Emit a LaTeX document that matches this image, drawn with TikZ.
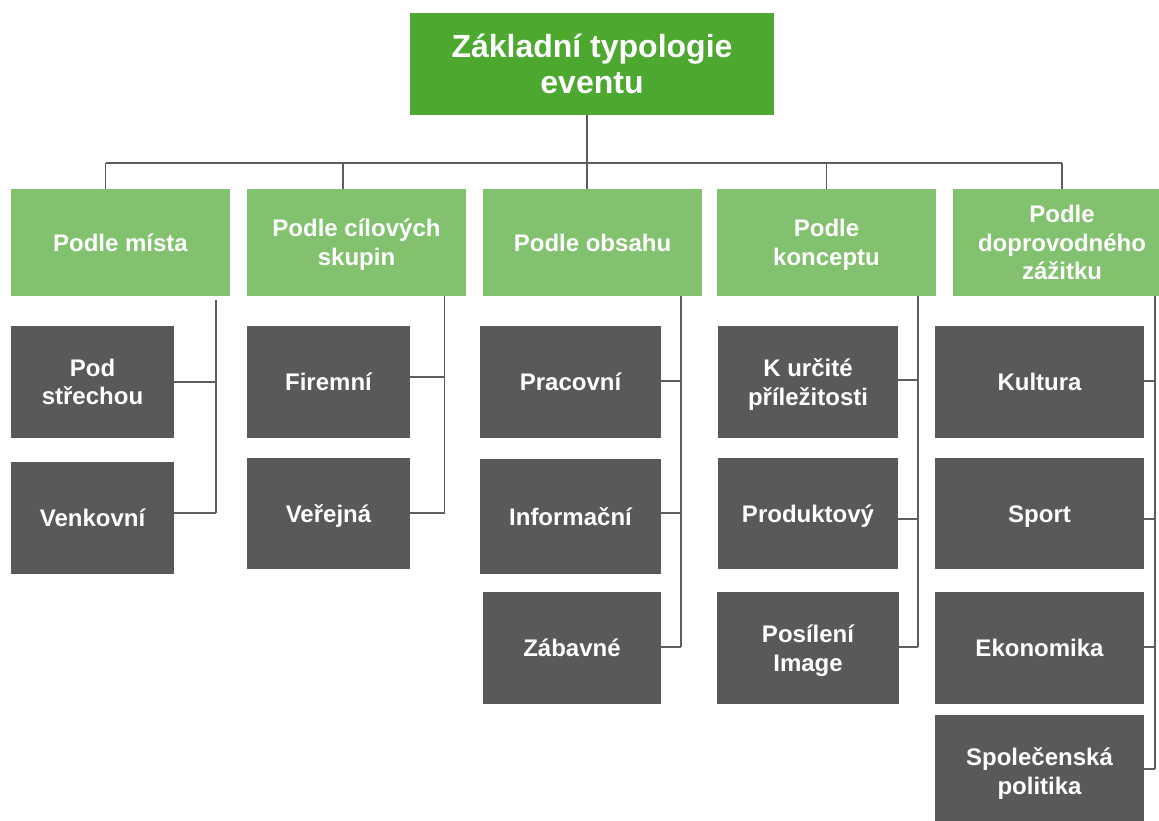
\documentclass[tikz,border=0pt]{standalone}
\usepackage{fontspec}
\setmainfont{Liberation Sans}
\definecolor{topgreen}{HTML}{4CA82F}
\definecolor{midgreen}{HTML}{82C26F}
\definecolor{darkbox}{HTML}{595959}
\definecolor{linegray}{HTML}{5E5E5E}
\newcommand{\nodepth}[1]{\raisebox{0pt}[\height][0pt]{#1}}
\begin{document}
\begin{tikzpicture}[x=1pt,y=-1pt,
  basebox/.style={rectangle, inner sep=0pt, outer sep=0pt, align=center, text=white, font=\bfseries\fontsize{24}{28.8}\selectfont},
  topbox/.style={basebox, fill=topgreen, minimum width=364pt, minimum height=102pt, font=\bfseries\fontsize{32}{36}\selectfont},
  catbox/.style={basebox, fill=midgreen, minimum height=107pt},
  itembox/.style={basebox, fill=darkbox},
  oneline/.style={text height=17pt, text depth=-2pt},
  conn/.style={draw=linegray, line width=1.5pt}]
\useasboundingbox (0,0) rectangle (1159,820);
\clip (0,0) rectangle (1159,820);
\fill[white] (0,0) rectangle (1159,820);

% top
\node[topbox] (top) at (592,64) {Základní typologie\\eventu};

% level 2
\node[catbox, oneline, minimum width=219pt] (a) at (120.5,242.5) {Podle místa};
\node[catbox, minimum width=219pt] (b) at (356.5,242.5) {Podle cílových\\\nodepth{skupin}};
\node[catbox, oneline, minimum width=219pt] (c) at (592.5,242.5) {Podle obsahu};
\node[catbox, minimum width=219pt] (d) at (826.5,242.5) {Podle\\\nodepth{konceptu}};
\node[catbox, minimum width=218pt] (e) at (1062,242.5) {Podle\\doprovodného\\zážitku};

% level 3 col 1
\node[itembox, minimum width=163pt, minimum height=112pt] (a1) at (92.5,382) {Pod\\střechou};
\node[itembox, oneline, minimum width=163pt, minimum height=112pt] (a2) at (92.5,518) {Venkovní};
% col 2
\node[itembox, oneline, minimum width=163pt, minimum height=112pt] (b1) at (328.5,382) {Firemní};
\node[itembox, oneline, minimum width=163pt, minimum height=111pt] (b2) at (328.5,513.5) {Veřejná};
% col 3
\node[itembox, oneline, minimum width=181pt, minimum height=112pt] (c1) at (570.5,382) {Pracovní};
\node[itembox, oneline, minimum width=181pt, minimum height=115pt] (c2) at (570.5,516.5) {Informační};
\node[itembox, oneline, minimum width=178pt, minimum height=112pt] (c3) at (572,648) {Zábavné};
% col 4
\node[itembox, minimum width=180pt, minimum height=112pt] (d1) at (808,382) {K určité\\\nodepth{příležitosti}};
\node[itembox, oneline, minimum width=180pt, minimum height=111pt] (d2) at (808,513.5) {Produktový};
\node[itembox, minimum width=182pt, minimum height=112pt] (d3) at (808,648) {Posílení\\\nodepth{Image}};
% col 5
\node[itembox, oneline, minimum width=209pt, minimum height=112pt] (e1) at (1039.5,382) {Kultura};
\node[itembox, oneline, minimum width=209pt, minimum height=111pt] (e2) at (1039.5,513.5) {Sport};
\node[itembox, oneline, minimum width=209pt, minimum height=112pt] (e3) at (1039.5,648) {Ekonomika};
\node[itembox, minimum width=209pt, minimum height=112pt] (e4) at (1039.5,771) {Společenská\\\nodepth{politika}};

% bus
\coordinate (s0) at (587,163);
\coordinate (s1) at (105.6,163);
\coordinate (s2) at (343,163);
\coordinate (s3) at (587,163);
\coordinate (s4) at (826.7,163);
\coordinate (s5) at (1062,163);
\draw[conn] (top.south -| s0) -- (s0);
\draw[conn] (s1) -- (s5);
\draw[conn] (s1) -- (s1 |- a.north);
\draw[conn] (s2) -- (s2 |- b.north);
\draw[conn] (s3) -- (s3 |- c.north);
\draw[conn] (s4) -- (s4 |- d.north);
\draw[conn] (s5) -- (s5 |- e.north);

% brackets col 1
\coordinate (k1a) at (216,382);
\coordinate (k1b) at (216,513);
\draw[conn] ([yshift=-4pt]a.south -| k1a) -- (k1b);
\draw[conn] (k1a -| a1.east) -- (k1a);
\draw[conn] (k1b -| a2.east) -- (k1b);
% col 2
\coordinate (k2a) at (444.5,377);
\coordinate (k2b) at (444.5,513);
\draw[conn] (b.south -| k2a) -- (k2b);
\draw[conn] (k2a -| b1.east) -- (k2a);
\draw[conn] (k2b -| b2.east) -- (k2b);
% col 3
\coordinate (k3a) at (681,381);
\coordinate (k3b) at (681,513);
\coordinate (k3c) at (681,647);
\draw[conn] (c.south -| k3a) -- (k3c);
\draw[conn] (k3a -| c1.east) -- (k3a);
\draw[conn] (k3b -| c2.east) -- (k3b);
\draw[conn] (k3c -| c3.east) -- (k3c);
% col 4
\coordinate (k4a) at (918,380);
\coordinate (k4b) at (918,519);
\coordinate (k4c) at (918,647);
\draw[conn] (d.south -| k4a) -- (k4c);
\draw[conn] (k4a -| d1.east) -- (k4a);
\draw[conn] (k4b -| d2.east) -- (k4b);
\draw[conn] (k4c -| d3.east) -- (k4c);
% col 5
\coordinate (k5a) at (1155,381);
\coordinate (k5b) at (1155,519);
\coordinate (k5c) at (1155,647);
\coordinate (k5d) at (1155,769);
\draw[conn] (e.south -| k5a) -- (k5d);
\draw[conn] (k5a -| e1.east) -- (k5a);
\draw[conn] (k5b -| e2.east) -- (k5b);
\draw[conn] (k5c -| e3.east) -- (k5c);
\draw[conn] (k5d -| e4.east) -- (k5d);
\end{tikzpicture}
\end{document}
